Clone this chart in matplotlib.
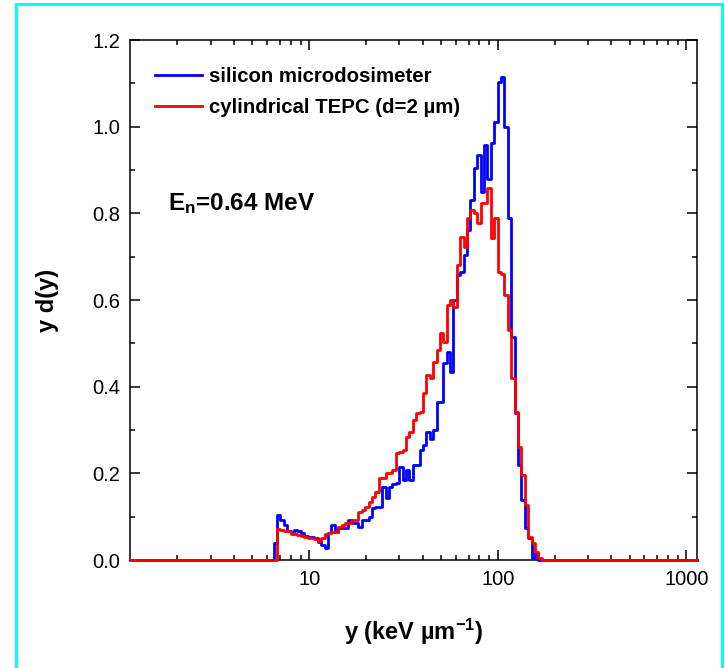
import numpy as np
import matplotlib
matplotlib.use("Agg")
import matplotlib.pyplot as plt
from matplotlib.lines import Line2D
from matplotlib.patches import Rectangle
from matplotlib.ticker import FixedLocator, NullFormatter

plt.rcParams['font.family'] = ['Liberation Sans', 'DejaVu Sans']
plt.rcParams['mathtext.fontset'] = 'custom'
plt.rcParams['mathtext.rm'] = 'Liberation Sans'
plt.rcParams['mathtext.bf'] = 'Liberation Sans:bold'
plt.rcParams['mathtext.it'] = 'Liberation Sans:italic'

# log-spaced bins of the lineal energy spectra
log_first_edge = 0.8112
log_step = 0.018
x_range = (1.12, 1140)

silicon = [
    0.040, 0.104, 0.092, 0.081, 0.068, 0.065, 0.070, 0.066, 0.062, 0.055,
    0.053, 0.053, 0.050, 0.042, 0.035, 0.028, 0.062, 0.081, 0.065, 0.075,
    0.073, 0.073, 0.092, 0.085, 0.085, 0.077, 0.092, 0.092, 0.100, 0.120,
    0.122, 0.122, 0.169, 0.143, 0.169, 0.175, 0.178, 0.215, 0.185, 0.208,
    0.185, 0.219, 0.220, 0.254, 0.265, 0.295, 0.280, 0.300, 0.365, 0.365,
    0.454, 0.480, 0.434, 0.600, 0.658, 0.665, 0.704, 0.762, 0.831, 0.905,
    0.935, 0.850, 0.958, 0.880, 0.962, 1.010, 1.103, 1.115, 1.000, 0.789,
    0.515, 0.339, 0.219, 0.138, 0.074, 0.050, 0.005, 0.016, 0.000, 0.000,
]

tepc = [
    0.000, 0.071, 0.070, 0.066, 0.066, 0.060, 0.060, 0.058, 0.055, 0.052,
    0.050, 0.050, 0.048, 0.045, 0.050, 0.060, 0.062, 0.065, 0.065, 0.077,
    0.080, 0.085, 0.085, 0.092, 0.092, 0.110, 0.115, 0.122, 0.134, 0.146,
    0.157, 0.189, 0.190, 0.200, 0.200, 0.208, 0.246, 0.250, 0.254, 0.284,
    0.295, 0.323, 0.339, 0.342, 0.385, 0.427, 0.420, 0.457, 0.485, 0.524,
    0.503, 0.588, 0.600, 0.584, 0.680, 0.745, 0.722, 0.789, 0.808, 0.800,
    0.778, 0.824, 0.824, 0.858, 0.743, 0.790, 0.665, 0.660, 0.612, 0.530,
    0.420, 0.342, 0.261, 0.196, 0.127, 0.053, 0.039, 0.018, 0.005, 0.000,
]

labels = ['silicon microdosimeter', 'cylindrical TEPC (d=2 \u00b5m)']
colors = ['#0000ff', '#ff0000']

n_bins = len(silicon)
edges = 10 ** (log_first_edge + log_step * np.arange(n_bins + 1))
x_all = np.concatenate([[x_range[0]], edges, [x_range[1]]])


def step_xy(vals):
    y = np.concatenate([[0.0], vals, [0.0, 0.0]])
    return x_all, y


fig = plt.figure(figsize=(7.25, 6.68), dpi=100)
ax = fig.add_axes([130 / 725, 1 - 560 / 668, 567 / 725, 520 / 668])

for vals, c in zip([silicon, tepc], colors):
    xs, ys = step_xy(vals)
    ax.plot(xs, ys, drawstyle='steps-post', color=c, lw=2.0,
            clip_on=False, zorder=3)

ax.set_xscale('log')
ax.set_xlim(*x_range)
ax.set_ylim(0, 1.2)

ax.xaxis.set_major_locator(FixedLocator([10, 100, 1000]))
ax.set_xticklabels(['10', '100', '1000'])
minor = [m * 10 ** d for d in range(0, 4) for m in range(2, 10)]
ax.xaxis.set_minor_locator(FixedLocator(minor))
ax.xaxis.set_minor_formatter(NullFormatter())
ax.set_yticks(np.arange(0, 1.21, 0.2))
ax.set_yticklabels([f'{v:.1f}' for v in np.arange(0, 1.21, 0.2)])
ax.set_yticks(np.arange(0.1, 1.2, 0.2), minor=True)

ax.tick_params(which='both', direction='in', top=True, right=True,
               labelsize=14.5, width=1.1, pad=7)
ax.tick_params(which='major', length=7)
ax.tick_params(which='minor', length=3.8)
for s in ax.spines.values():
    s.set_linewidth(1.1)

ax.set_xlabel('y (keV \u00b5m$^{\\mathbf{-1}}$)', fontsize=17,
              fontweight='bold', labelpad=20)
ax.set_ylabel('y d(y)', fontsize=17, fontweight='bold', labelpad=24)

handles = [Line2D([], [], color=c, lw=2.0) for c in colors]
ax.legend(handles, labels, loc='upper left', bbox_to_anchor=(0.044, 0.948),
          frameon=False, borderaxespad=0, borderpad=0, handlelength=2.3,
          handletextpad=0.35, labelspacing=0.6,
          prop={'size': 14.7, 'weight': 'bold'})

ax.text(168, 668 - 210, 'E$_{\\mathbf{n}}$=0.64 MeV', transform=None,
        fontsize=17.5, fontweight='bold', ha='left', va='baseline')

fig.patches.append(Rectangle((16 / 725, -0.02), 706 / 725, 1.02 - 4 / 668,
                             transform=fig.transFigure, fill=False,
                             edgecolor='#00ffff', lw=2.2))

fig.savefig('out.png', dpi=100)
